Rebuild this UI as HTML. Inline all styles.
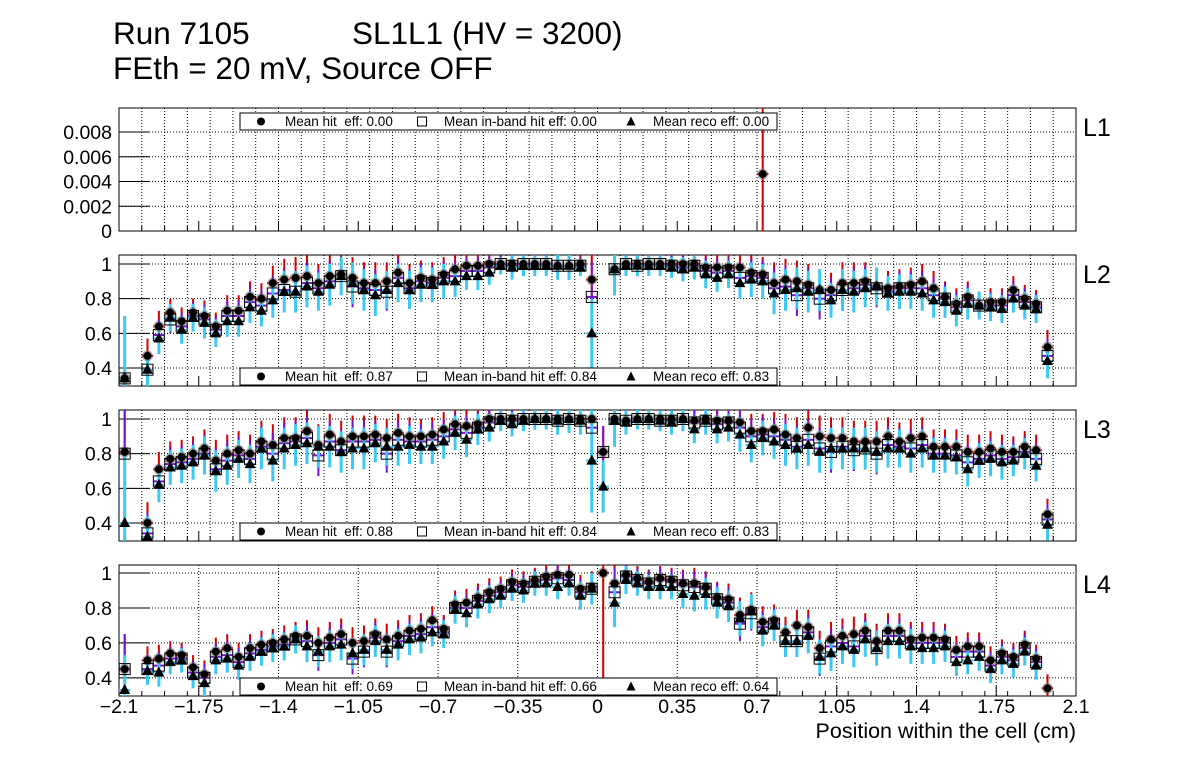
<!DOCTYPE html>
<html><head><meta charset="utf-8">
<style>
body{margin:0;background:#fff;}
svg{display:block;font-family:"Liberation Sans",Arial,sans-serif;}
</style></head>
<body>
<svg id="chart" width="1196" height="772" viewBox="0 0 1196 772" xmlns="http://www.w3.org/2000/svg">
<rect x="0" y="0" width="1196" height="772" fill="#fff"/>
<text x="113" y="44" font-size="31.5">Run 7105</text>
<text x="352" y="44" font-size="31.5">SL1L1 (HV = 3200)</text>
<text x="113" y="79" font-size="31.5">FEth = 20 mV, Source OFF</text>
<text x="1076" y="738" font-size="21.5" text-anchor="end">Position within the cell (cm)</text>
<g id="layer"></g>
</svg>
<script>
// ---- data ----
const binStart = -2.075, binWidth = 0.05;
const xTickLabels = ["\u22122.1","\u22121.75","\u22121.4","\u22121.05","\u22120.7","\u22120.35","0","0.35","0.7","1.05","1.4","1.75","2.1"];
const xTickValues = [-2.1,-1.75,-1.4,-1.05,-0.7,-0.35,0,0.35,0.7,1.05,1.4,1.75,2.1];
const panelNames = ["L1","L2","L3","L4"];
const meanHit = ["0.00","0.87","0.88","0.69"];
const meanInband = ["0.00","0.84","0.84","0.66"];
const meanReco = ["0.00","0.83","0.83","0.64"];
const l1Bins = [56];
const l1Hit = [0.0046];
const l1Err = [0.0065];
const l1YTicks = [0,0.002,0.004,0.006,0.008];
const l1YTickLabels = ["0","0.002","0.004","0.006","0.008"];
const effYTicks = [0.4,0.6,0.8,1];
const effYTickLabels = ["0.4","0.6","0.8","1"];

const l2Hit = [
.34,null,.47,.64,.72,.67,.72,.70,.64,.73,
.73,.81,.80,.89,.91,.92,.93,.89,.93,.94,
.92,.89,.89,.90,.95,.89,.92,.91,.94,.97,
.99,.99,1.0,1.0,1.0,1.0,1.0,1.0,.99,.99,
1.0,.91,null,.97,1.0,1.0,1.0,1.0,1.0,1.0,
1.0,.98,.98,.98,.98,.95,.94,.89,.91,.90,
.88,.85,.85,.89,.89,.90,.87,.86,.87,.88,
.90,.86,.81,.77,.81,.76,.78,.78,.85,.80,
.77,.52,null,null];
const l2Inband = [
.34,null,.39,.59,.68,.64,.70,.68,.62,.70,
.70,.78,.76,.83,.85,.84,.89,.86,.90,.93,
.87,.86,.85,.84,.92,.86,.90,.89,.92,.93,
.96,.96,.98,1.0,.99,1.0,1.0,1.0,.99,.99,
.99,.81,null,.97,1.0,.99,1.0,1.0,.99,.98,
.99,.96,.95,.96,.92,.93,.92,.86,.87,.82,
.86,.80,.82,.85,.86,.88,.86,.84,.86,.86,
.86,.82,.80,.75,.79,.76,.76,.76,.82,.78,
.75,.47,null,null];
const l2Reco = [
.34,null,.39,.57,.69,.62,.69,.66,.60,.67,
.67,.75,.73,.79,.84,.84,.87,.84,.88,.93,
.89,.85,.82,.85,.89,.85,.88,.88,.90,.90,
.93,.93,.95,.99,.98,.99,.99,.99,.99,.99,
.98,.60,null,.97,.99,.99,.99,.99,.98,.97,
.98,.94,.92,.94,.89,.91,.90,.83,.85,.86,
.84,.85,.79,.85,.84,.86,.87,.83,.84,.84,
.83,.79,.78,.73,.77,.76,.75,.74,.80,.76,
.74,.44,null,null];
const l2Err = [
.36,0,.1,.09,.08,.08,.08,.09,.08,.09,
.09,.09,.09,.1,.12,.12,.12,.11,.12,.11,
.12,.12,.12,.11,.11,.11,.1,.1,.1,.09,
.08,.08,.07,.05,.07,.06,.06,.06,.08,.08,
.05,.2,0,.15,.06,.06,.06,.06,.06,.07,
.07,.08,.08,.08,.09,.1,.1,.12,.12,.12,
.12,.12,.1,.12,.12,.11,.11,.1,.1,.1,
.1,.1,.09,.09,.09,.08,.08,.08,.08,.08,
.08,.1,0,0];

const l3Hit = [
.81,null,.40,.71,.77,.78,.80,.83,.76,.80,
.82,.80,.87,.85,.89,.89,.93,.85,.91,.87,
.90,.90,.91,.89,.92,.90,.90,.91,.94,.97,
.96,.97,1.0,1.0,1.0,1.0,1.0,1.0,1.0,1.0,
1.0,1.0,.81,1.0,.99,1.0,1.0,1.0,1.0,1.0,
.99,1.0,.99,.99,.98,.93,.93,.94,.91,.89,
.95,.90,.89,.89,.87,.87,.87,.90,.87,.89,
.90,.84,.84,.84,.81,.81,.83,.81,.81,.84,
.82,.45,null,null];
const l3Inband = [
.80,null,.34,.64,.74,.75,.77,.80,.71,.76,
.79,.77,.84,.80,.86,.87,.89,.79,.87,.82,
.87,.87,.88,.80,.88,.87,.87,.88,.90,.94,
.92,.95,.98,1.0,.99,1.0,1.0,1.0,.99,1.0,
.99,.95,.81,1.0,.99,1.0,1.0,.99,.99,1.0,
.98,.99,.97,.98,.95,.90,.91,.90,.88,.84,
.88,.83,.81,.84,.82,.83,.80,.85,.84,.83,
.85,.80,.80,.79,.75,.77,.79,.77,.78,.81,
.77,.42,null,null];
const l3Reco = [
.40,null,.32,.62,.72,.73,.75,.79,.70,.73,
.77,.74,.83,.76,.83,.85,.86,.84,.84,.81,
.83,.83,.86,.84,.84,.85,.84,.84,.87,.92,
.88,.94,.95,.99,.97,.99,1.0,1.0,.99,1.0,
.99,.76,.61,.99,.98,1.0,1.0,.99,.98,1.0,
.94,.99,.94,.95,.91,.85,.89,.87,.85,.83,
.85,.81,.83,.83,.83,.83,.81,.83,.83,.80,
.83,.79,.79,.78,.71,.76,.77,.75,.76,.80,
.73,.39,null,null];
const l3Err = [
.4,0,.12,.1,.1,.1,.1,.11,.12,.11,
.11,.11,.12,.12,.12,.12,.12,.12,.12,.12,
.12,.12,.11,.11,.11,.11,.1,.1,.1,.1,
.1,.09,.08,.06,.07,.06,.06,.06,.08,.08,
.08,.3,.15,.15,.07,.06,.06,.06,.07,.07,
.08,.08,.08,.08,.1,.1,.1,.1,.12,.12,
.12,.12,.12,.12,.12,.12,.12,.11,.11,.11,
.11,.1,.1,.1,.1,.1,.1,.1,.09,.09,
.09,.09,0,0];

const l4Hit = [
.45,null,.50,.51,.54,.53,.46,.42,.55,.57,
.52,.57,.59,.60,.62,.64,.64,.60,.63,.65,
.60,.61,.65,.62,.64,.67,.68,.73,.68,.82,
.83,.86,.89,.91,.95,.94,.96,.98,.99,.99,
.91,.92,1.0,.94,.99,.97,.95,.97,.96,.94,
.94,.92,.86,.85,.76,.79,.72,.73,.66,.70,
.69,.57,.62,.64,.65,.67,.61,.67,.67,.62,
.63,.63,.62,.56,.58,.58,.50,.54,.52,.59,
.51,.34,null,null];
const l4Inband = [
.45,null,.45,.47,.51,.51,.43,.40,.52,.53,
.49,.54,.56,.58,.59,.62,.61,.53,.60,.62,
.51,.55,.63,.55,.61,.64,.65,.69,.66,.80,
.80,.84,.87,.89,.93,.92,.95,.96,.97,.96,
.89,.91,null,.89,.98,.96,.94,.96,.95,.93,
.92,.91,.85,.83,.71,.77,.69,.71,.61,.61,
.66,.51,.58,.60,.58,.64,.57,.64,.64,.60,
.60,.60,.60,.52,.55,.55,.47,.52,.50,.57,
.49,null,null,null];
const l4Reco = [
.33,null,.44,.43,.49,.50,.41,.37,.50,.51,
.47,.52,.55,.57,.58,.62,.58,.55,.58,.59,
.54,.56,.61,.56,.59,.62,.63,.66,.65,.79,
.77,.82,.85,.87,.91,.90,.94,.94,.92,.94,
.87,.91,null,.83,.96,.94,.92,.92,.92,.88,
.87,.88,.83,.81,.74,.78,.67,.70,.61,.61,
.64,.52,.54,.58,.56,.62,.57,.61,.61,.58,
.57,.57,.58,.49,.50,.52,.45,.50,.48,.55,
.47,null,null,null];
const l4Err = [
.2,0,.08,.08,.07,.07,.07,.08,.08,.08,
.08,.08,.08,.08,.08,.08,.09,.09,.09,.09,
.09,.09,.09,.09,.09,.09,.09,.08,.08,.08,
.08,.08,.08,.07,.07,.07,.07,.07,.07,.07,
.08,.09,.75,.14,.08,.07,.07,.07,.07,.08,
.09,.09,.09,.09,.1,.1,.09,.09,.09,.09,
.1,.1,.1,.1,.1,.1,.1,.1,.1,.1,
.09,.09,.09,.08,.08,.08,.08,.08,.08,.08,
.08,.08,0,0];

// ---- layout ----
const NS = "http://www.w3.org/2000/svg";
const layer = document.getElementById("layer");
const X0 = 119, X1 = 1076;
function xs(v){ return X0 + (v + 2.1) / 4.2 * (X1 - X0); }
const panels = [
  {top:108, bottom:231, ymin:0, ymax:0.00994, legendTop:true, grid:0.1},
  {top:255, bottom:386, ymin:0.296, ymax:1.052, legendTop:false, grid:0.1},
  {top:410, bottom:541, ymin:0.296, ymax:1.052, legendTop:false, grid:0.1},
  {top:565, bottom:696, ymin:0.296, ymax:1.046, legendTop:false, grid:0.35}
];
function mk(tag, attrs, parent){
  const e = document.createElementNS(NS, tag);
  for (const k in attrs) e.setAttribute(k, attrs[k]);
  (parent || layer).appendChild(e);
  return e;
}
function binX(i){ return binStart + i * binWidth; }

panels.forEach((p, pi) => {
  const ys = v => p.bottom - (v - p.ymin) / (p.ymax - p.ymin) * (p.bottom - p.top);
  const g = mk("g", {});
  
  
  const clipId = "clip" + pi;
  const cp = mk("clipPath", {id: clipId}, g);
  mk("rect", {x: X0, y: p.top, width: X1 - X0, height: p.bottom - p.top}, cp);
  const gv = mk("g", {stroke: "#000", "stroke-width": 1, "stroke-dasharray": "1,2"}, g);
  
  
  const nGrid = Math.round(4.2 / p.grid);
  for (let k = 1; k < nGrid; k++) {
    const xv = -2.1 + k * p.grid;
    const xp = xs(xv);
    mk("line", {x1: xp, x2: xp, y1: p.top, y2: p.bottom}, gv);
  }
  const yt = pi === 0 ? l1YTicks : effYTicks;
  const yl = pi === 0 ? l1YTickLabels : effYTickLabels;
  yt.forEach((v, k) => {
    const yp = ys(v);
    if (v > p.ymin + 1e-9) {
      const gl = mk("line", {x1: X0, x2: X1, y1: yp, y2: yp, stroke: "#000", "stroke-width": 1, "stroke-dasharray": "1,2"}, g);
      
      
      mk("line", {x1: X0, x2: X0 + 31, y1: yp, y2: yp, stroke: "#000", "stroke-width": 1}, g);
    }
    const t = mk("text", {x: 112, y: yp + 7, "font-size": 19.5, "text-anchor": "end"}, g);
    
    
    t.textContent = yl[k];
  });
  for (let k = 1; k < 42; k++) {
    const xp = xs(-2.1 + k * 0.1);
    mk("line", {x1: xp, x2: xp, y1: p.bottom, y2: p.bottom - 5, stroke: "#000", "stroke-width": 1}, g);
  }
  xTickValues.forEach(v => {
    const xp = xs(v);
    mk("line", {x1: xp, x2: xp, y1: p.bottom, y2: p.bottom - 10, stroke: "#000", "stroke-width": 1}, g);
  });
  const fr = mk("rect", {x: X0, y: p.top, width: X1 - X0, height: p.bottom - p.top, fill: "none", stroke: "#000", "stroke-width": 1}, g);
  
  
  const pl = mk("text", {x: 1083, y: (p.top + 28), "font-size": 25}, g);
  
  
  pl.textContent = panelNames[pi];

  const marks = mk("g", {"clip-path": "url(#" + clipId + ")"}, g);
  let hit, inb, reco, err, bins;
  if (pi === 0) { bins = l1Bins; hit = l1Hit; err = l1Err; inb = []; reco = []; }
  else {
    hit = [l2Hit, l3Hit, l4Hit][pi - 1];
    inb = [l2Inband, l3Inband, l4Inband][pi - 1];
    reco = [l2Reco, l3Reco, l4Reco][pi - 1];
    err = [l2Err, l3Err, l4Err][pi - 1];
    bins = hit.map((_, i) => i);
  }
  const hw = (xs(binWidth) - xs(0)) / 2;
  bins.forEach((b, k) => {
    const v = hit[k]; if (v == null) return;
    const xp = xs(binX(b));
    const e = mk("line", {x1: xp, x2: xp, y1: ys(v - err[k]), y2: ys(v + err[k]), stroke: "#d40000", "stroke-width": 2}, marks);
    
    
    mk("line", {x1: xp - hw, x2: xp + hw, y1: ys(v), y2: ys(v), stroke: "#d40000", "stroke-width": 2}, marks);
  });
  bins.forEach((b, k) => {
    const v = inb[k]; if (v == null) return;
    const xp = xs(binX(b));
    const e = mk("line", {x1: xp, x2: xp, y1: ys(v - err[k]), y2: ys(v + err[k]), stroke: "#7a10d8", "stroke-width": 2}, marks);
    
    
    mk("line", {x1: xp - hw, x2: xp + hw, y1: ys(v), y2: ys(v), stroke: "#7a10d8", "stroke-width": 2}, marks);
  });
  bins.forEach((b, k) => {
    const v = reco[k]; if (v == null) return;
    const xp = xs(binX(b));
    const e = mk("line", {x1: xp, x2: xp, y1: ys(v - err[k]), y2: ys(v + err[k]), stroke: "#3cc8f5", "stroke-width": 3}, marks);
    
    
    mk("line", {x1: xp - hw, x2: xp + hw, y1: ys(v), y2: ys(v), stroke: "#3cc8f5", "stroke-width": 2}, marks);
  });
  bins.forEach((b, k) => {
    const xp = xs(binX(b));
    if (hit[k] != null) {
      mk("circle", {cx: xp, cy: ys(hit[k]), r: 5.5, fill: "#666", opacity: 0.5}, marks);
      const c = mk("circle", {cx: xp, cy: ys(hit[k]), r: 4, fill: "#000"}, marks);
      
      
    }
    if (inb[k] != null) {
      const s = mk("rect", {x: xp - 5.5, y: ys(inb[k]) - 5.5, width: 11, height: 11, fill: "none", stroke: "#000", "stroke-width": 1}, marks);
      
      
    }
    if (reco[k] != null) {
      const yp = ys(reco[k]);
      const t = mk("polygon", {points: (xp) + "," + (yp - 6) + " " + (xp - 5.5) + "," + (yp + 4) + " " + (xp + 5.5) + "," + (yp + 4), fill: "#000"}, marks);
      
      
    }
  });

  const ly = p.legendTop ? 113 : p.bottom - 18;
  const lg = mk("g", {}, g);
  
  
  mk("rect", {x: 240, y: ly, width: 537, height: 17, fill: "#fff", stroke: "#000", "stroke-width": 1}, lg);
  const cy = ly + 8.5;
  mk("circle", {cx: 261, cy: cy, r: 4, fill: "#000"}, lg);
  mk("rect", {x: 417.5, y: cy - 4.5, width: 9, height: 9, fill: "none", stroke: "#000", "stroke-width": 1}, lg);
  mk("polygon", {points: "631," + (cy - 5) + " 626.5," + (cy + 4) + " 635.5," + (cy + 4), fill: "#000"}, lg);
  const t1 = mk("text", {x: 285, y: cy + 4.5, "font-size": 13.5}, lg);
  
  
  t1.textContent = "Mean hit\u00a0 eff: " + meanHit[pi];
  const t2 = mk("text", {x: 444, y: cy + 4.5, "font-size": 13.5}, lg);
  
  
  t2.textContent = "Mean in-band hit eff: " + meanInband[pi];
  const t3 = mk("text", {x: 653, y: cy + 4.5, "font-size": 13.5}, lg);
  
  
  t3.textContent = "Mean reco eff: " + meanReco[pi];
});

xTickValues.forEach((v, k) => {
  const t = mk("text", {x: xs(v), y: 713, "font-size": 19.5, "text-anchor": "middle"});
  
  
  t.textContent = xTickLabels[k];
});
</script>
</body></html>
